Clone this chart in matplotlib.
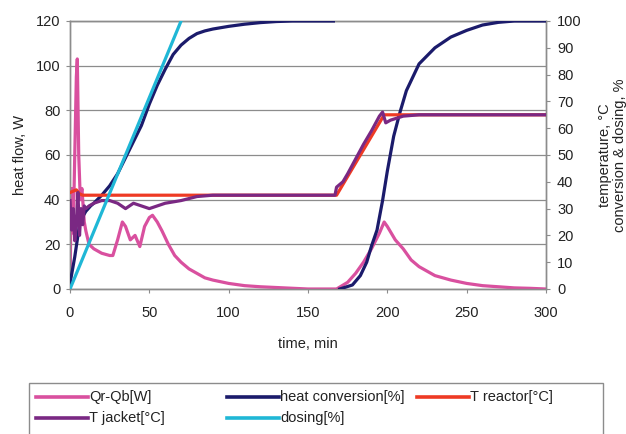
import numpy as np
import matplotlib
matplotlib.use("Agg")
import matplotlib.pyplot as plt
from matplotlib.lines import Line2D
from matplotlib.patches import Rectangle

plt.rcParams['font.family'] = ['Liberation Sans', 'DejaVu Sans']

# ---- data ----
t_q = [0, 0.5, 1, 2, 3, 4, 4.6, 5.5, 6.5, 7.5, 9, 10, 12, 15, 20, 25, 27, 30, 33, 35, 38, 41, 44, 47, 50, 52,
       55, 58, 62, 66, 70, 75, 80, 85, 90, 100, 110, 120, 135, 150, 165, 168, 175, 180, 185, 190, 195,
       198, 200, 205, 210, 215, 220, 225, 230, 240, 250, 260, 270, 280, 290, 300]
qr_qb = [0, 30, 45, 25, 60, 95, 103, 60, 40, 45, 30, 26, 20, 18, 16, 15, 15, 22, 30, 28, 22, 24, 19, 28, 32, 33,
         30, 26, 20, 15, 12, 9, 7, 5, 4, 2.5, 1.5, 1, 0.5, 0, 0, 0, 3, 7, 12, 18, 25,
         30, 28, 22, 18, 13, 10, 8, 6, 4, 2.5, 1.5, 1, 0.5, 0.3, 0]

t_hc = [0, 3, 6, 8, 10, 13, 15, 20, 25, 30, 35, 40, 45, 50, 55, 60, 65, 70, 75, 80, 85, 90, 100, 110, 120,
        130, 140, 166, 168, 170, 178, 183, 187, 190, 193.5, 197, 200, 204, 208, 212, 216, 220, 225, 230, 240,
        250, 260, 270, 280, 300]
heat_conv = [2, 12, 24, 27, 29, 31, 32, 35, 38.5, 43, 49, 55, 61, 69, 76, 82, 87.5, 91, 93.5, 95.3, 96.3, 97,
             98, 98.8, 99.4, 99.8, 100, 100, np.nan, 0, 1.5, 5, 10, 16, 22, 33, 44, 57, 66, 74, 79, 84, 87,
             90, 94, 96.5, 98.5, 99.5, 100, 100]

t_tr = [0, 2, 4, 6, 8, 168, 198, 200, 300]
t_reactor = [36, 36.5, 37, 35.5, 35, 35, 65, 65, 65]

t_tj = [0, 1, 2, 3, 4, 5, 6, 7, 8, 9, 10, 12, 15, 20, 25, 30, 35, 40, 45, 50, 55, 60, 70, 80, 90, 167,
        168, 172, 175, 180, 185, 190, 195, 197, 199, 202, 210, 220, 300]
t_jacket = [33, 22, 30, 18, 25, 36, 20, 30, 24, 31, 30, 31, 32, 33, 33, 32, 30, 32, 31, 30, 31, 32, 33, 34.5,
            35, 35, 38, 40, 43, 48.5, 54, 59, 64.5, 66, 62, 63, 64.5, 65, 65]

t_dos = [0, 70]
dosing = [0, 100]

labels = ['Qr-Qb[W]', 'heat conversion[%]', 'T reactor[°C]', 'T jacket[°C]', 'dosing[%]']
colors = ['#d9509f', '#1b1b6b', '#ee3a24', '#7a2883', '#1fb7d6']

W, H = 626, 434
# ---- figure ----
fig = plt.figure(figsize=(W / 100, H / 100), dpi=100)
ax = fig.add_axes([70 / W, 1 - 289 / H, 476 / W, 268 / H])
ax2 = ax.twinx()

lw = 2.3
ax.plot(t_q, qr_qb, color=colors[0], lw=lw, zorder=3)
ax2.plot(t_hc, heat_conv, color=colors[1], lw=lw, zorder=3)
ax2.plot(t_tr, t_reactor, color=colors[2], lw=lw, zorder=4)
ax2.plot(t_tj, t_jacket, color=colors[3], lw=lw, zorder=5)
ax2.plot(t_dos, dosing, color=colors[4], lw=lw, zorder=6)

ax.set_xlim(0, 300)
ax.set_ylim(0, 120)
ax2.set_ylim(0, 100)
ax.set_xticks(range(0, 301, 50))
ax.set_yticks(range(0, 121, 20))
ax2.set_yticks(range(0, 101, 10))
ax.yaxis.grid(True, color='#8c8c8c', lw=0.9)
ax.set_axisbelow(True)

for a in (ax, ax2):
    for s in a.spines.values():
        s.set_color('#8c8c8c')
        s.set_linewidth(1.0)
    a.tick_params(colors='#8c8c8c', labelcolor='#222222', labelsize=10.5, length=3, width=0.8)
ax.tick_params(axis='x', pad=9.5)
ax.tick_params(axis='y', pad=4)
ax2.tick_params(axis='y', pad=5)

ax.set_xlabel('time, min', fontsize=10.5, color='#222222', labelpad=12)
ax.set_ylabel('heat flow, W', fontsize=10.5, color='#222222', labelpad=6)
ax2.set_ylabel('temperature, °C\nconversion & dosing, %', fontsize=10.5, color='#222222',
               rotation=90, labelpad=12, linespacing=1.05)

# ---- legend (Excel-style fixed column grid) ----
fig.add_artist(Rectangle((29 / W, -0.05), (603 - 29) / W, 0.05 + 1 - 383 / H,
                         transform=fig.transFigure, fill=False, edgecolor='#8c8c8c', lw=1.0))
pos = [(36, 397), (227, 397), (417, 397), (36, 418), (227, 418)]
for (px, py), lab, c in zip(pos, labels, colors):
    fig.add_artist(Line2D([px / W, (px + 52) / W], [1 - py / H, 1 - py / H],
                          transform=fig.transFigure, color=c, lw=2.6))
    fig.text((px + 53) / W, 1 - py / H, lab, fontsize=10.5, color='#222222',
             ha='left', va='center')

fig.savefig('out.png', dpi=100)
